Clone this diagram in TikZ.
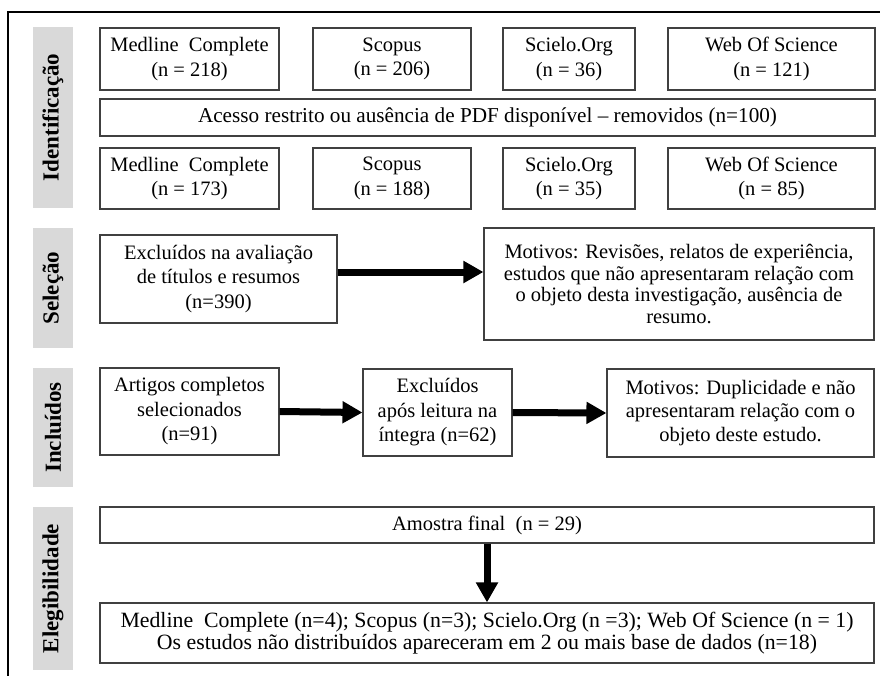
\documentclass[tikz,border=0pt]{standalone}
\usepackage{fontspec}
\setmainfont{Liberation Serif}
\usetikzlibrary{arrows.meta}

\begin{document}
\begin{tikzpicture}[x=1pt,y=-1pt,
    box/.style={draw=black!75, line width=1.1pt, fill=white, align=center, inner sep=2pt,
        font=\fontsize{20.5}{24.5}\selectfont},
    tag/.style={fill=black!15, minimum height=40pt, inner sep=0pt, rotate=90,
        font=\fontsize{23}{24}\selectfont\bfseries},
    bigarrow/.style={line width=7pt, -{Triangle[length=20pt,width=21pt]}}]
    \useasboundingbox (0,0) rectangle (880,675);
    \clip (0,0) rectangle (880,675);
    \draw[line width=1.5pt] (8,12) rectangle (900,700);

    % labels
    \node[tag, minimum width=181pt] (tagid) at (53,117.5) {Identificação};
    \node[tag, minimum width=120pt] (tagsel) at (53,288) {Seleção};
    \node[tag, minimum width=119pt] (taginc) at (53,427.5) {Incluídos};
    \node[tag, minimum width=163pt] (tagel) at (53,588.5) {Elegibilidade};

    % identificacao
    \node[box, minimum width=179pt, minimum height=62pt] (med1) at (189.5,59) {Medline\ \ Complete\\(n = 218)};
    \node[box, minimum width=158pt, minimum height=62pt] (sco1) at (392,59) {Scopus\\(n = 206)};
    \node[box, minimum width=132pt, minimum height=62pt] (sci1) at (569,59) {Scielo.Org\\(n = 36)};
    \node[box, minimum width=207pt, minimum height=62pt] (web1) at (771.5,59) {Web Of Science\\(n = 121)};
    \node[box, minimum width=775pt, minimum height=37pt, font=\fontsize{21.2}{24}\selectfont] (acesso) at (487.5,117.5) {Acesso restrito ou ausência de PDF disponível -- removidos (n=100)};
    \node[box, minimum width=179pt, minimum height=61pt] (med2) at (189.5,178.5) {Medline\ \ Complete\\(n = 173)};
    \node[box, minimum width=158pt, minimum height=61pt] (sco2) at (392,178.5) {Scopus\\(n = 188)};
    \node[box, minimum width=132pt, minimum height=61pt] (sci2) at (569,178.5) {Scielo.Org\\(n = 35)};
    \node[box, minimum width=207pt, minimum height=61pt] (web2) at (771.5,178.5) {Web Of Science\\(n = 85)};

    % selecao
    \node[box, minimum width=237pt, minimum height=88pt] (exsel) at (218.5,279) {Excluídos na avaliação\\de títulos e resumos\\(n=390)};
    \node[box, minimum width=390pt, minimum height=112pt, font=\fontsize{20.5}{21.5}\selectfont] (motsel) at (679,284)
        {Motivos: Revisões, relatos de experiência,\\estudos que não apresentaram relação com\\o objeto desta investigação, ausência de\\resumo.};
    \draw[bigarrow] ([yshift=7pt]exsel.east) -- ([yshift=7pt]exsel.east -| motsel.west);

    % incluidos
    \node[box, minimum width=179pt, minimum height=87pt] (artigos) at (189.5,411.5) {Artigos completos\\selecionados\\(n=91)};
    \node[box, minimum width=149pt, minimum height=87pt] (exinc) at (437.5,412.5) {Excluídos\\após leitura na\\íntegra (n=62)};
    \node[box, minimum width=267pt, minimum height=88pt, font=\fontsize{20.5}{23.5}\selectfont] (motinc) at (740.5,413) {Motivos: Duplicidade e não\\apresentaram relação com o\\objeto deste estudo.};
    \draw[bigarrow] (artigos.east) -- (exinc.west);
    \draw[bigarrow] (exinc.east) -- (motinc.west);

    % elegibilidade
    \node[box, minimum width=774pt, minimum height=36pt] (amostra) at (487,525) {Amostra final\ \ (n = 29)};
    \node[box, minimum width=774pt, minimum height=60pt, font=\fontsize{21.8}{22}\selectfont] (final) at (487,633)
        {Medline\ \ Complete (n=4);\ Scopus (n=3); Scielo.Org (n =3); Web Of Science (n = 1)\\Os estudos não distribuídos apareceram em 2 ou mais base de dados (n=18)};
    \draw[bigarrow] (amostra.south) -- (final.north);
\end{tikzpicture}
\end{document}
